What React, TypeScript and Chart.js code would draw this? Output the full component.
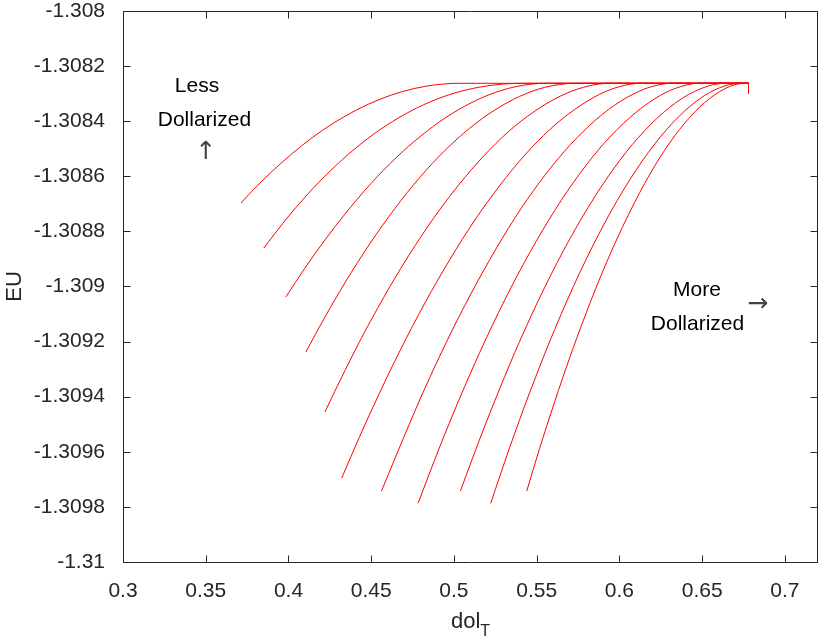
import { useEffect, useRef } from 'react';
import { Chart, registerables } from 'chart.js';

Chart.register(...registerables);

// ---- axis ranges and tick labels ----
const X_MIN = 0.3;
const X_MAX = 0.72;
const Y_MIN = -1.31;
const Y_MAX = -1.308;
const xTicks = [0.3, 0.35, 0.4, 0.45, 0.5, 0.55, 0.6, 0.65, 0.7];
const yTicks = [-1.31, -1.3098, -1.3096, -1.3094, -1.3092, -1.309, -1.3088, -1.3086, -1.3084, -1.3082, -1.308];

// ---- series (dol_T, EU) ----
const curve1: [number, number][] = [
  [0.3713, -1.3086969], [0.3809, -1.3086356], [0.3906, -1.3085793], [0.4027, -1.3085151],
  [0.4147, -1.3084581], [0.428, -1.308404], [0.4413, -1.3083586], [0.4552, -1.3083205],
  [0.4691, -1.3082918], [0.4824, -1.3082737], [0.4944, -1.3082646], [0.5035, -1.3082624],
  [0.678, -1.3082624],
];
const curve2: [number, number][] = [
  [0.3851, -1.3088603], [0.3978, -1.3087615], [0.4111, -1.3086683], [0.425, -1.3085819],
  [0.4401, -1.3085002], [0.4552, -1.3084312], [0.4703, -1.308375], [0.4854, -1.3083303],
  [0.5005, -1.3082976], [0.5156, -1.3082762], [0.5295, -1.3082653], [0.5428, -1.3082624],
  [0.678, -1.3082624],
];
const curve3: [number, number][] = [
  [0.3984, -1.3090381], [0.4099, -1.3089336], [0.422, -1.3088312], [0.4341, -1.3087372],
  [0.4461, -1.3086512], [0.4612, -1.308555], [0.4763, -1.3084719], [0.4914, -1.3084018],
  [0.5065, -1.3083456], [0.5216, -1.3083031], [0.5367, -1.3082755], [0.5548, -1.3082624],
  [0.678, -1.3082624],
];
const curve4: [number, number][] = [
  [0.4105, -1.3092377], [0.422, -1.3091111], [0.4341, -1.3089866], [0.4492, -1.3088443],
  [0.4643, -1.3087169], [0.4793, -1.3086044], [0.4944, -1.3085071], [0.5095, -1.3084254],
  [0.5246, -1.3083597], [0.5397, -1.30831], [0.5548, -1.3082773], [0.573, -1.3082624],
  [0.678, -1.3082624],
];
const curve5: [number, number][] = [
  [0.422, -1.3094555], [0.4341, -1.3093053], [0.4461, -1.3091644], [0.4612, -1.3090015],
  [0.4763, -1.3088534], [0.4914, -1.3087212], [0.5065, -1.3086047], [0.5216, -1.3085034],
  [0.5367, -1.3084185], [0.5518, -1.3083517], [0.5669, -1.3083016], [0.582, -1.3082711],
  [0.5941, -1.3082624], [0.678, -1.3082624],
];
const curve6: [number, number][] = [
  [0.4322, -1.3096951], [0.4431, -1.3095434], [0.4552, -1.3093844], [0.4673, -1.3092341],
  [0.4824, -1.3090603], [0.4975, -1.3089024], [0.5126, -1.308759], [0.5277, -1.3086334],
  [0.5428, -1.308523], [0.5579, -1.3084305], [0.573, -1.3083572], [0.588, -1.3083024],
  [0.6001, -1.3082744], [0.6128, -1.3082624], [0.678, -1.3082624],
];
const curve7: [number, number][] = [
  [0.4562, -1.3097423], [0.4673, -1.3095815], [0.4793, -1.309412], [0.4914, -1.3092526],
  [0.5065, -1.3090693], [0.5216, -1.3089031], [0.5367, -1.3087525], [0.5518, -1.3086211],
  [0.5669, -1.3085085], [0.582, -1.3084149], [0.5971, -1.3083419], [0.6122, -1.3082904],
  [0.6213, -1.3082715], [0.6315, -1.3082624], [0.678, -1.3082624],
];
const curve8: [number, number][] = [
  [0.4783, -1.3097869], [0.4914, -1.3095822], [0.5035, -1.3094051], [0.5156, -1.3092392],
  [0.5307, -1.3090486], [0.5458, -1.3088773], [0.5609, -1.3087241], [0.576, -1.3085906],
  [0.5911, -1.3084777], [0.6062, -1.3083873], [0.6213, -1.3083187], [0.6333, -1.308282],
  [0.6484, -1.3082624], [0.678, -1.3082624],
];
const curve9: [number, number][] = [
  [0.5039, -1.3097423], [0.5156, -1.3095535], [0.5277, -1.3093702], [0.5397, -1.3091989],
  [0.5548, -1.3090036], [0.5699, -1.3088287], [0.585, -1.3086751], [0.6001, -1.308543],
  [0.6152, -1.3084345], [0.6303, -1.3083503], [0.6454, -1.3082918], [0.6635, -1.3082624],
  [0.678, -1.3082624],
];
const curve10: [number, number][] = [
  [0.5222, -1.3097869], [0.5337, -1.309584], [0.5458, -1.3093844], [0.5609, -1.3091554],
  [0.576, -1.3089503], [0.5911, -1.3087691], [0.6062, -1.3086131], [0.6213, -1.3084828],
  [0.6364, -1.30838], [0.6484, -1.3083191], [0.6605, -1.3082788], [0.6726, -1.3082624],
  [0.678, -1.3082624],
];
const curve11: [number, number][] = [
  [0.544, -1.3097423], [0.5518, -1.3095873], [0.5609, -1.3094178], [0.5699, -1.3092592],
  [0.579, -1.3091107], [0.588, -1.3089728], [0.5971, -1.3088461], [0.6062, -1.3087303],
  [0.6182, -1.3085942], [0.6303, -1.3084791], [0.6424, -1.3083866], [0.6545, -1.3083176],
  [0.6665, -1.3082744], [0.6756, -1.3082624], [0.678, -1.3082624],
];
const endDrop: [number, number][] = [[0.678, -1.3082624], [0.678, -1.3083]];

const curves = [curve1, curve2, curve3, curve4, curve5, curve6, curve7, curve8, curve9, curve10, curve11];

// ---- annotation texts (data coordinates) ----
const annotations: { text: string; x: number; y: number; arrow: boolean }[] = [
  { text: 'Less', x: 0.3447, y: -1.308294, arrow: false },
  { text: 'Dollarized', x: 0.3492, y: -1.308419, arrow: false },
  { text: '\u2191', x: 0.3501, y: -1.308514, arrow: true },
  { text: 'More', x: 0.6469, y: -1.309034, arrow: false },
  { text: 'Dollarized', x: 0.6472, y: -1.309158, arrow: false },
  { text: '\u2192', x: 0.6835, y: -1.309067, arrow: true },
];

const FONT = '"Liberation Sans", Arial, Helvetica, sans-serif';
const ARROW_FONT = '"DejaVu Sans", sans-serif';
const AXIS_COLOR = '#262626';
const LINE_COLOR = '#ff0000';
const TICK_LEN = 7;

const decorPlugin = {
  id: 'decor',
  afterDraw(chart: any) {
    const { ctx, chartArea: a, scales } = chart;
    const xs = scales.x;
    const ys = scales.y;
    ctx.save();
    ctx.strokeStyle = AXIS_COLOR;
    ctx.lineWidth = 1;
    const L = Math.round(a.left) + 0.5;
    const R = Math.round(a.right) - 0.5;
    const T = Math.round(a.top) + 0.5;
    const B = Math.round(a.bottom) + 0.5;
    ctx.beginPath();
    ctx.moveTo(L, T); ctx.lineTo(R, T); ctx.lineTo(R, B); ctx.lineTo(L, B); ctx.closePath();
    for (const v of xTicks) {
      const p = Math.round(xs.getPixelForValue(v)) + 0.5;
      ctx.moveTo(p, B); ctx.lineTo(p, B - TICK_LEN);
      ctx.moveTo(p, T); ctx.lineTo(p, T + TICK_LEN);
    }
    for (const v of yTicks) {
      const p = Math.round(ys.getPixelForValue(v)) + 0.5;
      ctx.moveTo(L, p); ctx.lineTo(L + TICK_LEN, p);
      ctx.moveTo(R, p); ctx.lineTo(R - TICK_LEN, p);
    }
    ctx.stroke();

    // annotations
    ctx.textAlign = 'center';
    for (const an of annotations) {
      if (an.arrow) {
        ctx.font = `25px ${ARROW_FONT}`;
        ctx.fillStyle = '#444444';
        ctx.textBaseline = 'middle';
      } else {
        ctx.font = `21px ${FONT}`;
        ctx.fillStyle = '#000000';
        ctx.textBaseline = 'alphabetic';
      }
      ctx.fillText(an.text, xs.getPixelForValue(an.x), ys.getPixelForValue(an.y));
    }

    // x-axis title with subscript: dol_T
    const mainFont = `22px ${FONT}`;
    const subFont = `16px ${FONT}`;
    ctx.font = mainFont;
    const w1 = ctx.measureText('dol').width;
    ctx.font = subFont;
    const w2 = ctx.measureText('T').width;
    const cx = (a.left + a.right) / 2;
    const sx = cx - (w1 + w2) / 2;
    const baseY = 628;
    ctx.fillStyle = AXIS_COLOR;
    ctx.textAlign = 'left';
    ctx.textBaseline = 'alphabetic';
    ctx.font = mainFont;
    ctx.fillText('dol', sx, baseY);
    ctx.font = subFont;
    ctx.fillText('T', sx + w1, baseY + 8);
    ctx.restore();
  },
};

export default function App() {
  const ref = useRef<HTMLCanvasElement | null>(null);
  useEffect(() => {
    if (!ref.current) return;
    const datasets: any[] = curves.map((c, i) => ({
      label: `curve${i + 1}`,
      data: c.map(([x, y]) => ({ x, y })),
      borderColor: LINE_COLOR,
      backgroundColor: LINE_COLOR,
      borderWidth: 1,
      pointRadius: 0,
      showLine: true,
      cubicInterpolationMode: 'monotone',
      fill: false,
    }));
    datasets.push({
      label: 'end',
      data: endDrop.map(([x, y]) => ({ x, y })),
      borderColor: LINE_COLOR,
      borderWidth: 1,
      pointRadius: 0,
      showLine: true,
      tension: 0,
      fill: false,
    });
    const chart = new Chart(ref.current, {
      type: 'scatter',
      data: { datasets },
      options: {
        responsive: false,
        animation: false,
        events: [],
        layout: { padding: { top: 11, right: 1, left: 0, bottom: 0 } },
        plugins: { legend: { display: false }, tooltip: { enabled: false } },
        scales: {
          x: {
            type: 'linear',
            min: X_MIN,
            max: X_MAX,
            grid: { display: false },
            border: { display: false },
            afterBuildTicks: (s: any) => { s.ticks = xTicks.map((v) => ({ value: v })); },
            afterFit: (s: any) => { s.height = 77; },
            ticks: {
              autoSkip: false,
              maxRotation: 0,
              padding: 11,
              color: AXIS_COLOR,
              font: { family: FONT, size: 21, lineHeight: 1 },
              callback: (v: any) => String(Number(Number(v).toFixed(2))),
            },
          },
          y: {
            type: 'linear',
            min: Y_MIN,
            max: Y_MAX,
            grid: { display: false },
            border: { display: false },
            afterBuildTicks: (s: any) => { s.ticks = yTicks.map((v) => ({ value: v })); },
            afterFit: (s: any) => { s.width = 123; s.paddingTop = 0; s.paddingBottom = 0; },
            title: {
              display: true,
              text: 'EU',
              color: AXIS_COLOR,
              font: { family: FONT, size: 22 },
              padding: { top: 2, bottom: 0 },
            },
            ticks: {
              autoSkip: false,
              padding: 10,
              color: AXIS_COLOR,
              font: { family: FONT, size: 21, lineHeight: 1 },
              callback: (v: any) => String(Number(Number(v).toFixed(4))),
            },
          },
        },
      },
      plugins: [decorPlugin],
    });
    return () => chart.destroy();
  }, []);
  return (
    <canvas
      ref={ref}
      width={819}
      height={639}
      style={{ position: 'fixed', left: 0, top: 0, width: '819px', height: '639px' }}
    />
  );
}
